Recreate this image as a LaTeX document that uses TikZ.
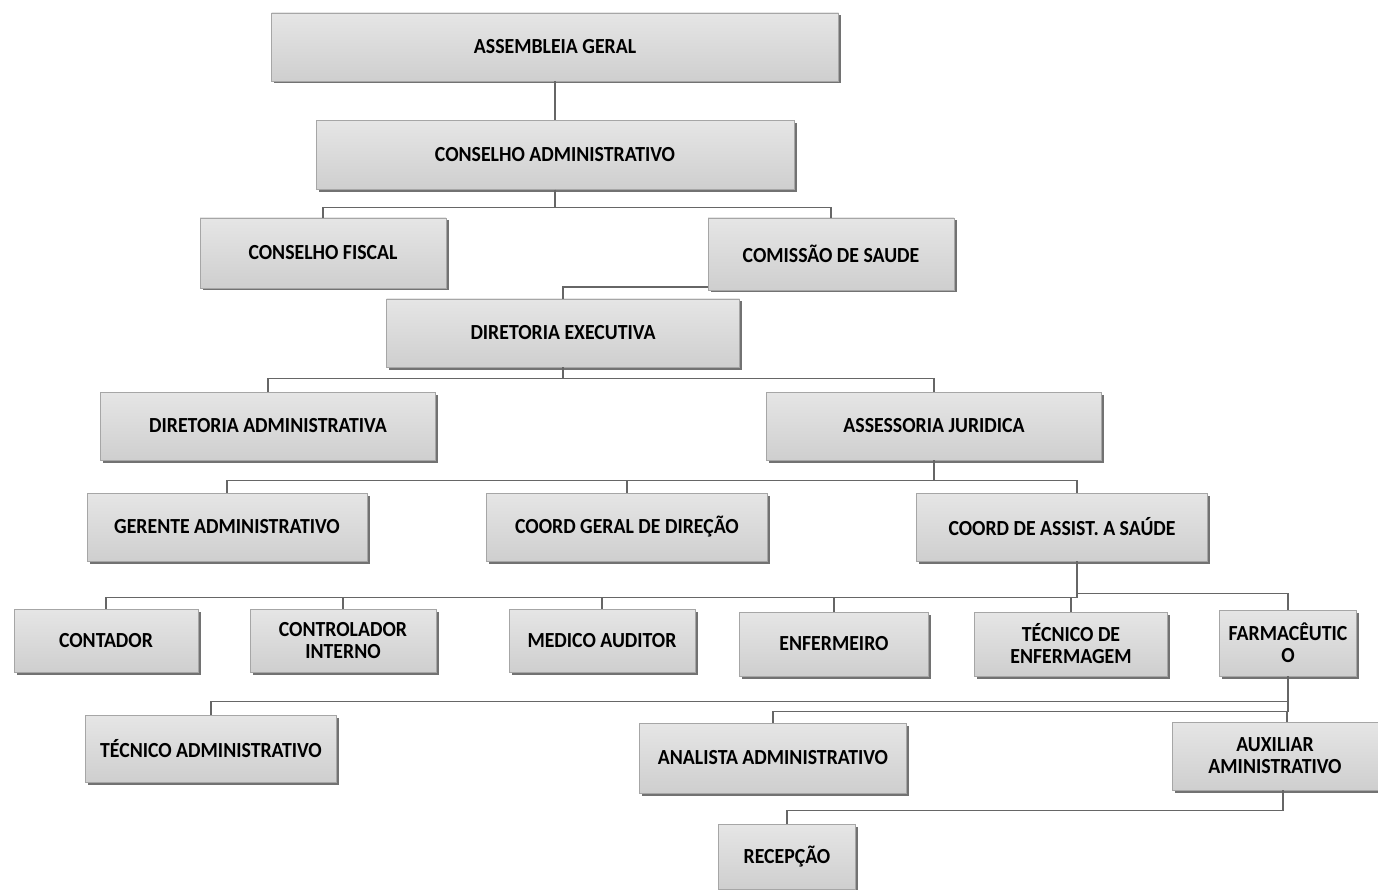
\documentclass[tikz,border=0pt]{standalone}
\usepackage{fontspec}
\setmainfont{Carlito}[FakeStretch=0.92]
\usetikzlibrary{shadows}

\tikzset{
  orgbox/.style={draw=gray!70, top color=gray!20, bottom color=gray!38,
    drop shadow={shadow xshift=2.5pt, shadow yshift=-2.5pt, fill=black!65, opacity=0.85},
    font=\bfseries\fontsize{21.5}{22}\selectfont, align=center, inner sep=2pt},
  link/.style={draw=gray!80!black, line width=1.4pt}
}

\begin{document}
\begin{tikzpicture}[x=1pt,y=-1pt]
        \useasboundingbox (0,0) rectangle (1378,890); % page size in pixels
        % boxes, top to bottom
        \node[orgbox, minimum width=567pt, minimum height=68pt] (assemb) at (555,47) {ASSEMBLEIA GERAL};
        \node[orgbox, minimum width=478pt, minimum height=69pt] (conadm) at (555,155) {CONSELHO ADMINISTRATIVO};
        \node[orgbox, minimum width=246pt, minimum height=70pt] (confis) at (323,253) {CONSELHO FISCAL};
        \node[orgbox, minimum width=246pt, minimum height=72pt] (comsau) at (831,254) {COMISSÃO DE SAUDE};
        \node[orgbox, minimum width=353pt, minimum height=68pt] (direxe) at (563,333) {DIRETORIA EXECUTIVA};
        \node[orgbox, minimum width=335pt, minimum height=68pt] (diradm) at (268,426) {DIRETORIA ADMINISTRATIVA};
        \node[orgbox, minimum width=335pt, minimum height=68pt] (assjur) at (934,426) {ASSESSORIA JURIDICA};
        \node[orgbox, minimum width=280pt, minimum height=68pt] (geradm) at (227,527) {GERENTE ADMINISTRATIVO};
        \node[orgbox, minimum width=281pt, minimum height=68pt] (coordger) at (627,527) {COORD GERAL DE DIREÇÃO};
        \node[orgbox, minimum width=291pt, minimum height=68pt] (coordass) at (1062,527) {COORD DE ASSIST. A SAÚDE};
        \node[orgbox, minimum width=184pt, minimum height=63pt] (contador) at (106,641) {CONTADOR};
        \node[orgbox, minimum width=186pt, minimum height=63pt] (control) at (343,641) {CONTROLADOR\\INTERNO};
        \node[orgbox, minimum width=186pt, minimum height=63pt] (medico) at (602,641) {MEDICO AUDITOR};
        \node[orgbox, minimum width=189pt, minimum height=64pt] (enferm) at (834,644) {ENFERMEIRO};
        \node[orgbox, minimum width=193pt, minimum height=64pt] (tecenf) at (1071,644) {TÉCNICO DE\\ENFERMAGEM};
        \node[orgbox, minimum width=137pt, minimum height=66pt] (farm) at (1288,643) {FARMACÊUTIC\\O};
        \node[orgbox, minimum width=251pt, minimum height=67pt] (tecadm) at (211,749) {TÉCNICO ADMINISTRATIVO};
        \node[orgbox, minimum width=267pt, minimum height=70pt] (analista) at (773,758) {ANALISTA ADMINISTRATIVO};
        \node[orgbox, minimum width=206pt, minimum height=68pt] (auxiliar) at (1275,756) {AUXILIAR\\AMINISTRATIVO};
        \node[orgbox, minimum width=137pt, minimum height=65pt] (recep) at (787,857) {RECEPÇÃO};
        % connectors
        \draw[link] (assemb) -- (conadm);
        \foreach \n in {confis,comsau}
        \draw[link] (conadm.south) -- ++(0,18) -| (\n.north);
        \draw[link] ([yshift=3pt]comsau.south west) -| (direxe.north);
        \foreach \n in {diradm,assjur}
        \draw[link] (direxe.south) -- ++(0,11) -| (\n.north);
        \foreach \n in {geradm,coordger}
        \draw[link] (assjur.south) -- ++(0,20) -| (\n.north);
        \draw[link] (assjur.south) -- ++(0,20) -| ([xshift=15pt]coordass.north);
        \foreach \n in {contador,control,medico,enferm,tecenf} % edit here for the staff row
        \draw[link] ([xshift=15pt]coordass.south) -- ++(0,36) -| (\n.north);
        \draw[link] ([xshift=15pt]coordass.south) -- ++(0,32) -| (farm.north);
        \draw[link] (farm.south) -- ++(0,25) -| (tecadm.north);
        \draw[link] (farm.south) -- ++(0,35) -| (analista.north);
        \draw[link] (farm.south) -- ++(0,35) -| ([xshift=12pt]auxiliar.north);
        \draw[link] ([xshift=8pt]auxiliar.south) -- ++(0,20) -| (recep.north);
    \end{tikzpicture}
\end{document}
